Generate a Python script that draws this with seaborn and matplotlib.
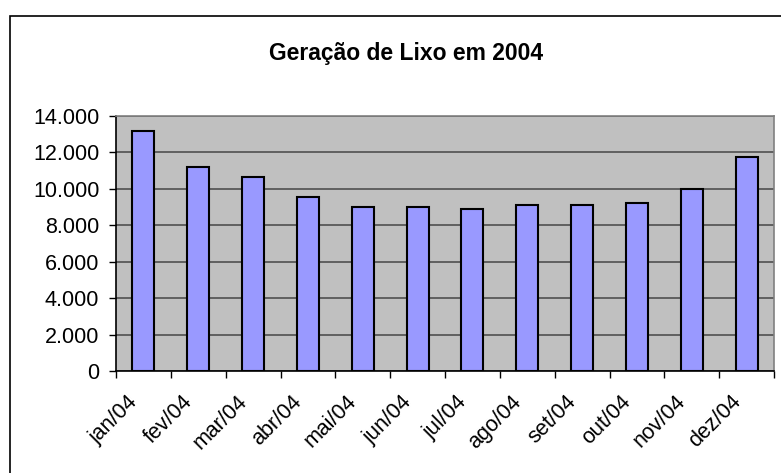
import matplotlib
matplotlib.use("Agg")
import matplotlib.pyplot as plt
import matplotlib.transforms as mtransforms
from matplotlib.patches import Rectangle
from matplotlib.ticker import FuncFormatter
import pandas as pd
import seaborn as sns

months = ["jan/04", "fev/04", "mar/04", "abr/04", "mai/04", "jun/04",
          "jul/04", "ago/04", "set/04", "out/04", "nov/04", "dez/04"]
lixo = [13200, 11200, 10650, 9550, 9000, 9000,
        8900, 9100, 9100, 9200, 10000, 11750]
y_ticks = [0, 2000, 4000, 6000, 8000, 10000, 12000, 14000]

sns.set_style("white")
plt.rcParams["font.family"] = ["Liberation Sans", "DejaVu Sans"]
plt.rcParams["text.color"] = "black"
plt.rcParams["xtick.color"] = "black"
plt.rcParams["ytick.color"] = "black"

W, H = 781, 473
fig = plt.figure(figsize=(W / 100, H / 100), dpi=100)
fig.patch.set_facecolor("white")
ax = fig.add_axes([116 / W, (H - 371) / H, (774 - 116) / W, (371 - 116) / H])

df = pd.DataFrame({"mes": months, "lixo": lixo})
sns.barplot(data=df, x="mes", y="lixo", color="#9999FF", saturation=1,
            width=0.4, edgecolor="black", linewidth=1.5, ax=ax, zorder=3)

ax.set_facecolor("#C0C0C0")
ax.set_ylim(0, 14000)
ax.set_xlim(-0.5, len(months) - 0.5)
ax.set_yticks(y_ticks)
ax.yaxis.set_major_formatter(FuncFormatter(lambda v, p: f"{int(v):,}".replace(",", ".")))
ax.yaxis.grid(True, color="#505050", linewidth=1.2, zorder=1)
ax.set_axisbelow(True)
ax.set_xlabel("")
ax.set_ylabel("")

# x ticks between categories, labels at category centers
ax.set_xticks(range(len(months)))
ax.set_xticklabels(months, rotation=45, ha="right", va="center",
                   rotation_mode="anchor", fontsize=15.5)
ax.tick_params(axis="x", which="major", length=0, pad=20)
ax.set_xticks([i - 0.5 for i in range(len(months) + 1)], minor=True)
ax.tick_params(axis="x", which="minor", length=5, color="black", width=1, bottom=True)
ax.tick_params(axis="y", length=5, color="black", width=1, labelsize=15.5, pad=7, left=True)

for lab in ax.get_xticklabels():
    lab.set_transform(lab.get_transform() + mtransforms.ScaledTranslation(-9 / 100, 0, fig.dpi_scale_trans))

for side in ["left", "bottom"]:
    ax.spines[side].set_color("black")
    ax.spines[side].set_linewidth(1.2)
for side in ["top", "right"]:
    ax.spines[side].set_color("#808080")
    ax.spines[side].set_linewidth(1.2)

fig.text(406 / W, 1 - 53 / H, "Geração de Lixo em 2004", ha="center", va="center",
         fontsize=16.5, fontweight="bold")

# outer chart border (runs off the right and bottom edges)
fig.patches.append(Rectangle((10 / W, -0.1), 1.2, (H - 16) / H + 0.1,
                             transform=fig.transFigure, fill=False,
                             edgecolor="black", linewidth=1.2))

fig.savefig("out.png", dpi=100)
